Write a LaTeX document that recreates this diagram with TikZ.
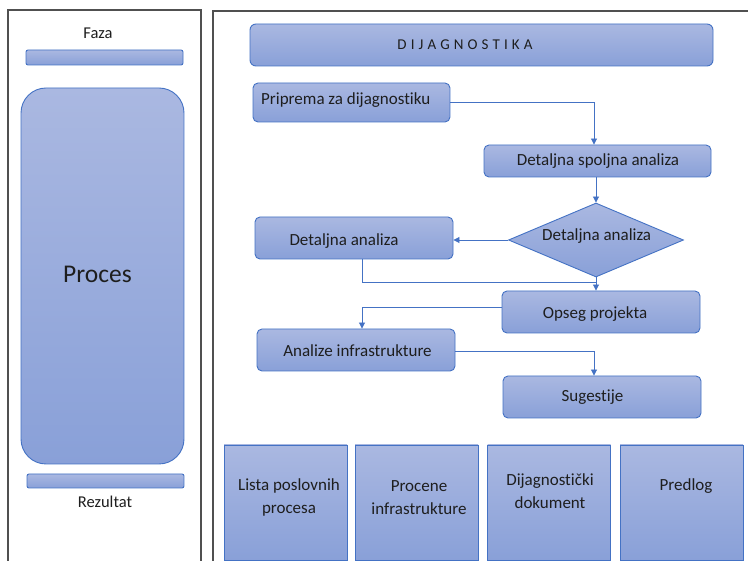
\documentclass[tikz,border=0pt]{standalone}
\usepackage{fontspec}
\setmainfont{Carlito}[Ligatures=NoCommon]
\usetikzlibrary{arrows.meta,shapes.geometric}
\definecolor{boxtop}{RGB}{170,184,225}
\definecolor{boxbot}{RGB}{137,160,216}
\definecolor{edge}{RGB}{68,114,196}
\definecolor{framegray}{RGB}{80,80,80}
\definecolor{ink}{RGB}{30,30,30}
\newcommand{\ls}{\hspace{4.1pt}}
\begin{document}
\begin{tikzpicture}[x=1pt,y=-1pt,
  shadebox/.style={draw=edge, line width=0.9pt, top color=boxtop, bottom color=boxbot, inner sep=0pt},
  roundbox/.style={shadebox, rounded corners=5pt, minimum width=198pt, minimum height=42pt},
  outbox/.style={shadebox, minimum width=123pt, minimum height=115pt},
  lbl/.style={text=ink, font=\fontsize{17}{23}\selectfont, inner sep=0pt, align=center},
  sidelbl/.style={lbl, font=\fontsize{16.5}{20}\selectfont},
  conn/.style={draw=edge, line width=0.9pt, -{Triangle[length=6pt,width=6pt]}},
  link/.style={draw=edge, line width=0.9pt},
  panel/.style={draw=framegray, line width=1.3pt}
]
\useasboundingbox (0,0) rectangle (748,561);
\clip (0,0) rectangle (748,561);
\fill[white] (0,0) rectangle (748,561);

% two panels
\draw[panel] (8,10) rectangle (201,600);
\draw[panel] (213,11) rectangle (800,600);

% left panel: phase, process, result
\node[sidelbl, anchor=base] (faza) at (98,39) {Faza};
\node[shadebox, rounded corners=2pt, minimum width=157pt, minimum height=15pt] (fazabar) at (104.5,57.5) {};
\node[shadebox, rounded corners=25pt, minimum width=163pt, minimum height=376pt] (proces) at (102.5,276) {};
\node[lbl, font=\fontsize{25.5}{30}\selectfont, anchor=base] (procestxt) at (97.5,283) {Proces};
\node[shadebox, rounded corners=2pt, minimum width=157pt, minimum height=14pt] (rezbar) at (105.5,481) {};
\node[sidelbl, anchor=base] (rez) at (105,507.5) {Rezultat};

% right panel: title bar
\node[shadebox, rounded corners=6pt, minimum width=463pt, minimum height=42pt] (diag) at (481.5,45) {};
\node[lbl, font=\fontsize{15}{18}\selectfont, anchor=base] (diagtxt) at (465,50)
  {D\ls I\ls J\ls A\ls G\ls N\ls O\ls S\ls T\ls I\ls K\ls A};

% process steps
\node[roundbox, minimum width=197pt, minimum height=39pt] (prip) at (351.5,102.5) {};
\node[lbl, anchor=base west] (priptxt) at (261,105) {Priprema za dijagnostiku};

\node[roundbox, minimum width=227pt, minimum height=32pt] (dsa) at (597.5,161) {};
\node[lbl, anchor=base] (dsatxt) at (598,166) {Detaljna spoljna analiza};

\node[shadebox, diamond, aspect=2.36, minimum width=175pt, minimum height=74pt] (dia) at (596,240) {};
\node[lbl, anchor=base] (diatxt) at (596.7,241) {Detaljna analiza};

\node[roundbox] (da) at (354,238) {};
\node[lbl, anchor=base] (datxt) at (344,246) {Detaljna analiza};

\node[roundbox] (ops) at (601,312) {};
\node[lbl, anchor=base] (opstxt) at (595,319) {Opseg projekta};

\node[roundbox] (ana) at (356,350) {};
\node[lbl, anchor=base] (anatxt) at (357.5,357) {Analize infrastrukture};

\node[roundbox] (sug) at (602,397) {};
\node[lbl, anchor=base] (sugtxt) at (592.5,402) {Sugestije};

% connectors
\coordinate (merge) at (596,282);
\draw[conn] (prip.east) -| ([xshift=-3.5pt]dsa.north);
\draw[conn] (dia.north |- dsa.south) -- (dia.north);
\draw[conn] (dia.west) -- (dia.west -| da.east);
\draw[link] ([xshift=8pt]da.south) |- (merge);
\draw[conn] (dia.south) -- (dia.south |- ops.north);
\draw[conn] ([yshift=5pt]ops.west) -| ([xshift=6pt]ana.north);
\draw[conn] ([yshift=-1pt]ana.east) -| ([xshift=-8pt]sug.north);

% deliverables
\node[outbox] (out1) at (285.5,502.5) {};
\node[lbl] (out1txt) at (289,497) {Lista poslovnih\\procesa};
\node[outbox] (out2) at (416.5,502.5) {};
\node[lbl] (out2txt) at (419,498) {Procene\\infrastrukture};
\node[outbox] (out3) at (549,502.5) {};
\node[lbl] (out3txt) at (550,491.5) {Dijagnostički\\dokument};
\node[outbox] (out4) at (681.5,502.5) {};
\node[lbl, anchor=base] (out4txt) at (686,491) {Predlog};
\end{tikzpicture}
\end{document}
